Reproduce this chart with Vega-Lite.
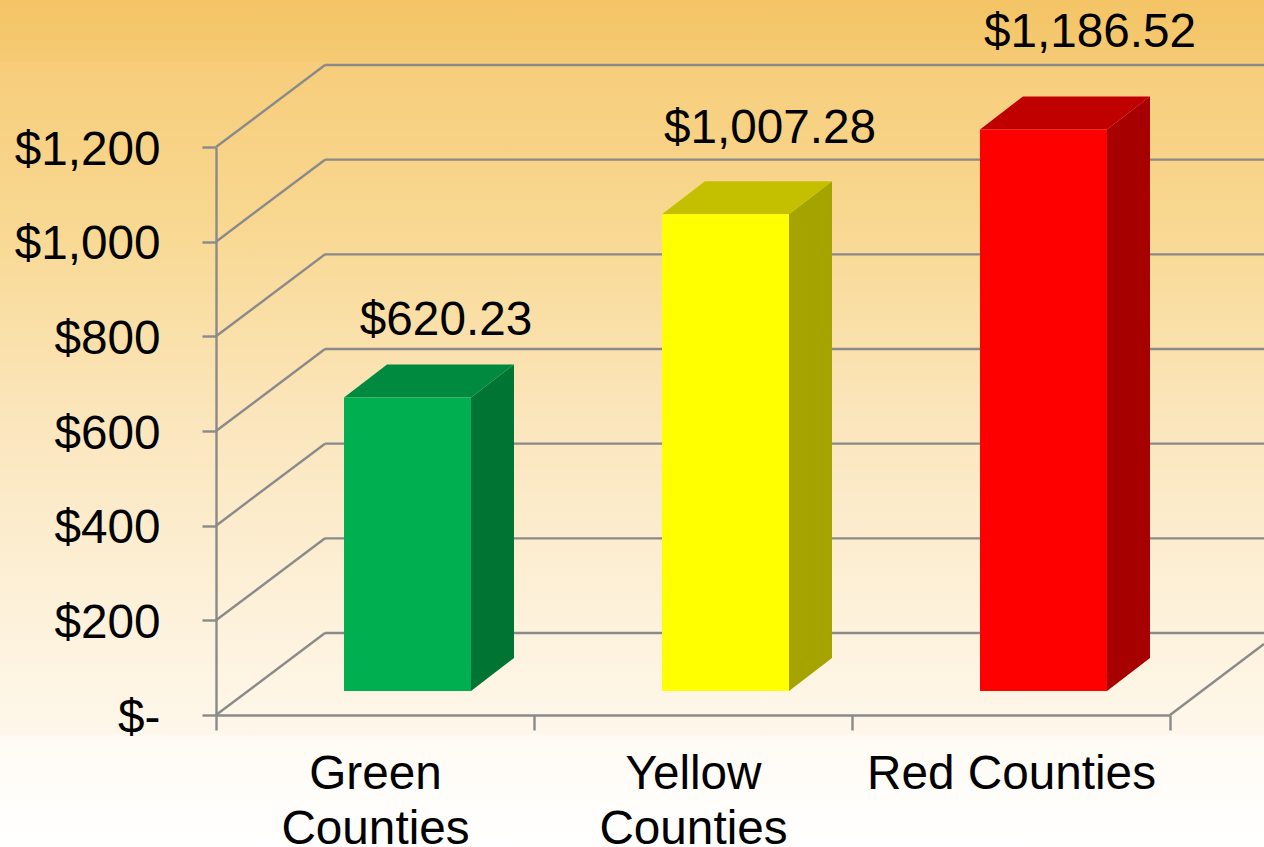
{
"$schema":"https://vega.github.io/schema/vega-lite/v6.json",
"width":1264,"height":847,"padding":0,"autosize":{"type":"none"},
"background":"#ffffff",
"view":{"stroke":null,"fill":{"gradient":"linear","x1":0,"y1":0,"x2":0,"y2":1,"stops":[{"offset":0,"color":"#f4c465"},{"offset":0.07,"color":"#f5ca73"},{"offset":0.075,"color":"#f7cd7b"},{"offset":0.25,"color":"#f8d78f"},{"offset":0.5,"color":"#fbe6bd"},{"offset":0.72,"color":"#fdf1da"},{"offset":0.865,"color":"#fef7ea"},{"offset":0.87,"color":"#fffbf4"},{"offset":1,"color":"#ffffff"}]}},
"config":{"font":"Liberation Sans","text":{"font":"Liberation Sans"}},
"data":{"values":[
{"county":"Green Counties","value":620.23},
{"county":"Yellow Counties","value":1007.28},
{"county":"Red Counties","value":1186.52}
]},
"layer":[
{"data":{"values":[{"tick":0},{"tick":200},{"tick":400},{"tick":600},{"tick":800},{"tick":1000},{"tick":1200}]},
 "mark":{"type":"rule","color":"#8a8a8a","strokeWidth":2.4,"xOffset":109,"yOffset":-82},
 "encoding":{"x":{"datum":0,"type":"quantitative","scale":{"domain":[0,3],"range":[216,1170],"nice":false,"zero":false},"axis":null},"x2":{"datum":3.3},
 "y":{"field":"tick","type":"quantitative","scale":{"domain":[0,1200],"range":[715,147],"nice":false,"zero":false},
  "axis":{"title":null,"orient":"left","offset":-216,"values":[0,200,400,600,800,1000,1200],"domainColor":"#8a8a8a","domainWidth":2.4,"tickColor":"#8a8a8a","tickWidth":2.4,"tickSize":14,"grid":false,"labelFontSize":47.7,"labelColor":"#000000","labelPadding":42,"labelOffset":3,"labelLimit":300,"labelOverlap":false,"labelBound":false,"labelFlush":false,"labelExpr":"datum.value==0?'$-':'$'+format(datum.value,',')"}}}},
{"data":{"values":[{"tick":0},{"tick":200},{"tick":400},{"tick":600},{"tick":800},{"tick":1000},{"tick":1200}]},
 "mark":{"type":"rule","color":"#8a8a8a","strokeWidth":2.4,"x2Offset":109,"y2Offset":-82},
 "encoding":{"x":{"datum":0,"type":"quantitative","scale":{"domain":[0,3],"range":[216,1170],"nice":false,"zero":false},"axis":null},"x2":{"datum":0},
 "y":{"field":"tick","type":"quantitative"},"y2":{"field":"tick"}}},
{"data":{"values":[{"tick":0}]},
 "mark":{"type":"rule","color":"#8a8a8a","strokeWidth":2.4,"x2Offset":94,"y2Offset":-71},
 "encoding":{"x":{"datum":3,"type":"quantitative","scale":{"domain":[0,3],"range":[216,1170],"nice":false,"zero":false},"axis":null},"x2":{"datum":3},
 "y":{"field":"tick","type":"quantitative"},"y2":{"field":"tick"}}},
{"transform":[
  {"calculate":"indexof(['Green Counties','Yellow Counties','Red Counties'],datum.county)+0.5","as":"slot"},
  {"calculate":"[0,1]","as":"depth"},{"flatten":["depth"]},
  {"calculate":"datum.slot+datum.depth*0.1352","as":"sx"},
  {"calculate":"datum.value+datum.depth*69.7","as":"syTop"},
  {"calculate":"datum.depth*69.7","as":"syBase"}],
 "mark":{"type":"area","orient":"vertical","xOffset":96,"yOffset":-24,"y2Offset":-24},
 "encoding":{"x":{"field":"sx","type":"quantitative","scale":{"domain":[0,3],"range":[216,1170],"nice":false,"zero":false},"axis":null},
 "y":{"field":"syTop","type":"quantitative","stack":null},"y2":{"field":"syBase"},
 "detail":{"field":"county"},
 "color":{"field":"county","type":"nominal","legend":null,"scale":{"domain":["Green Counties","Yellow Counties","Red Counties"],"range":["#007433","#a5a300","#a60000"]}}}},
{"transform":[
  {"calculate":"indexof(['Green Counties','Yellow Counties','Red Counties'],datum.county)+0.5","as":"slot"},
  {"calculate":"[0,1]","as":"depth"},{"flatten":["depth"]},
  {"calculate":"datum.slot+datum.depth*0.1352","as":"sx"},
  {"calculate":"datum.value+datum.depth*69.7","as":"syTop"}],
 "mark":{"type":"area","orient":"horizontal","xOffset":-31,"x2Offset":96,"yOffset":-24},
 "encoding":{"y":{"field":"syTop","type":"quantitative","stack":null},
 "x":{"field":"sx","type":"quantitative","stack":null,"scale":{"domain":[0,3],"range":[216,1170],"nice":false,"zero":false},"axis":null},"x2":{"field":"sx"},
 "detail":{"field":"county"},
 "color":{"field":"county","type":"nominal","legend":null,"scale":{"domain":["Green Counties","Yellow Counties","Red Counties"],"range":["#008a40","#c4c000","#c00000"]}}}},
{"mark":{"type":"bar","size":127,"xOffset":32.5,"yOffset":-24,"y2Offset":-24},
 "encoding":{
 "x":{"field":"county","type":"nominal","sort":null,"scale":{"domain":["Green Counties","Yellow Counties","Red Counties"],"type":"band","range":[216,1170],"paddingInner":0,"paddingOuter":0},
  "axis":{"title":null,"orient":"bottom","offset":-132,"labelAngle":0,"tickBand":"extent","domainColor":"#8a8a8a","domainWidth":2.4,"tickColor":"#8a8a8a","tickWidth":2.4,"tickSize":15,"labelFontSize":47.7,"labelColor":"#000000","labelPadding":20,"labelLineHeight":55,"labelLimit":400,"labelOverlap":false,"labelBound":false,"labelFlush":false,"labelExpr":"datum.label=='Red Counties'?datum.label:split(datum.label,' ')"}},
 "y":{"field":"value","type":"quantitative","stack":null},
 "y2":{"datum":0},
 "color":{"field":"county","type":"nominal","legend":null,"scale":{"domain":["Green Counties","Yellow Counties","Red Counties"],"range":["#00b050","#ffff00","#ff0000"]}}}},
{"transform":[
  {"calculate":"indexof(['Green Counties','Yellow Counties','Red Counties'],datum.county)+0.5+{'Green Counties':0.2233,'Yellow Counties':0.2421,'Red Counties':0.2484}[datum.county]","as":"lx"},
  {"calculate":"datum.value+{'Green Counties':161,'Yellow Counties':180,'Red Counties':203}[datum.county]","as":"ly"}],
 "mark":{"type":"text","fontSize":47.7,"color":"#000000","baseline":"middle","align":"center","yOffset":-24},
 "encoding":{"x":{"field":"lx","type":"quantitative","scale":{"domain":[0,3],"range":[216,1170],"nice":false,"zero":false},"axis":null},
 "y":{"field":"ly","type":"quantitative"},
 "text":{"field":"value","type":"quantitative","format":"$,.2f"}}}
],
"resolve":{"scale":{"x":"independent","color":"independent"}}
}
